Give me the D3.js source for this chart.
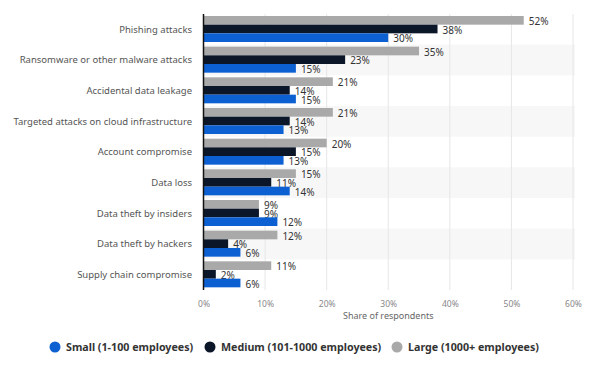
<!DOCTYPE html>
<html>
<head>
<meta charset="utf-8">
<script src="https://cdn.jsdelivr.net/npm/d3@7"></script>
<style>
  body { margin: 0; background: #fff; }
  svg { display: block; font-family: "Noto Sans", "Open Sans", sans-serif; }
</style>
</head>
<body>
<div id="chart"></div>
<script>
// Data___________________________________________
const categories = [
    "Phishing attacks",
    "Ransomware or other malware attacks",
    "Accidental data leakage",
    "Targeted attacks on cloud infrastructure",
    "Account compromise",
    "Data loss",
    "Data theft by insiders",
    "Data theft by hackers",
    "Supply chain compromise"
];
const large = [52, 35, 21, 21, 20, 15, 9, 12, 11];
const medium = [38, 23, 14, 14, 15, 11, 9, 4, 2];
const small = [30, 15, 15, 13, 13, 14, 12, 6, 6];
const seriesNames = ["Large (1000+ employees)", "Medium (101-1000 employees)", "Small (1-100 employees)"];
const xTicks = [0, 10, 20, 30, 40, 50, 60];

// Variables______________________________________
const width = 598, height = 373;
const colors = { large: "#a9a9a9", medium: "#0b1629", small: "#0c60d2" };

const svg = d3.select("#chart")
    .append("svg")
    .attr("width", width)
    .attr("height", height);

const xScale = d3.scaleLinear().domain([0, 60]).range([203.5, 573]);
const yScale = d3.scaleBand().domain(categories).range([14, 290]);
const inner = d3.scaleBand().domain(["large", "medium", "small"])
    .range([2, 28]);

// Stripes & grid_________________________________
svg.selectAll("rect.stripe")
    .data(categories.filter((d, i) => i % 2 === 1))
    .enter()
    .append("rect")
    .attr("class", "stripe")
    .attr("x", xScale(0))
    .attr("y", d => yScale(d))
    .attr("width", xScale(60) - xScale(0) + 2)
    .attr("height", yScale.bandwidth())
    .attr("fill", "#f7f7f7");

svg.append("g")
    .selectAll("line")
    .data(xTicks.slice(1))
    .enter()
    .append("line")
    .attr("x1", d => xScale(d))
    .attr("x2", d => xScale(d))
    .attr("y1", 14)
    .attr("y2", 290)
    .attr("stroke", "#e6e6e6")
    .attr("stroke-width", 1);

// Bars___________________________________________
const rows = categories.map((c, i) => ({ cat: c, large: large[i], medium: medium[i], small: small[i] }));

const groups = svg.selectAll("g.row")
    .data(rows)
    .enter()
    .append("g")
    .attr("class", "row")
    .attr("transform", d => `translate(0, ${yScale(d.cat)})`);

["large", "medium", "small"].forEach(key => {
    groups.append("rect")
        .attr("x", xScale(0))
        .attr("y", inner(key))
        .attr("width", d => xScale(d[key]) - xScale(0))
        .attr("height", inner.bandwidth())
        .attr("fill", colors[key]);

    groups.append("text")
        .attr("x", d => xScale(d[key]) + 5)
        .attr("y", inner(key) + inner.bandwidth() / 2 + 1)
        .attr("dy", "0.38em")
        .attr("font-size", "10px")
        .attr("fill", "#333")
        .text(d => d[key] + "%");
});

// Category labels________________________________
svg.append("g")
    .selectAll("text")
    .data(categories)
    .enter()
    .append("text")
    .attr("x", 192)
    .attr("y", d => yScale(d) + yScale.bandwidth() / 2)
    .attr("dy", "0.35em")
    .attr("text-anchor", "end")
    .attr("font-size", "9.5px")
    .attr("fill", "#555")
    .text(d => d);

// Axes___________________________________________
const xAxis = d3.axisBottom(xScale)
    .tickValues(xTicks)
    .tickFormat(d => d + "%")
    .tickSize(0)
    .tickPadding(7);

svg.append("g")
    .attr("transform", "translate(0, 294)")
    .call(xAxis)
    .call(g => g.select(".domain").remove())
    .call(g => g.selectAll("text")
        .attr("font-size", "8.5px")
        .attr("fill", "#888")
        .attr("font-family", "Noto Sans, sans-serif"));

svg.append("line")
    .attr("x1", xScale(0))
    .attr("x2", xScale(0))
    .attr("y1", 14)
    .attr("y2", 290)
    .attr("stroke", "#111")
    .attr("stroke-width", 1.5);

svg.append("text")
    .attr("x", (xScale(0) + xScale(60)) / 2)
    .attr("y", 319)
    .attr("text-anchor", "middle")
    .attr("font-size", "9px")
    .attr("fill", "#666")
    .text("Share of respondents");

// Legend_________________________________________
const legendItems = [
    { name: seriesNames[2], color: colors.small, x: 55 },
    { name: seriesNames[1], color: colors.medium, x: 210 },
    { name: seriesNames[0], color: colors.large, x: 397 }
];

const legend = svg.append("g")
    .attr("transform", "translate(0, 347)");

legend.selectAll("circle")
    .data(legendItems)
    .enter()
    .append("circle")
    .attr("cx", d => d.x)
    .attr("cy", 0)
    .attr("r", 5.5)
    .attr("fill", d => d.color);

legend.selectAll("text")
    .data(legendItems)
    .enter()
    .append("text")
    .attr("x", d => d.x + 11)
    .attr("y", 0)
    .attr("dy", "0.35em")
    .attr("font-size", "10.7px")
    .attr("font-weight", "bold")
    .attr("fill", "#333")
    .text(d => d.name);
</script>
</body>
</html>
